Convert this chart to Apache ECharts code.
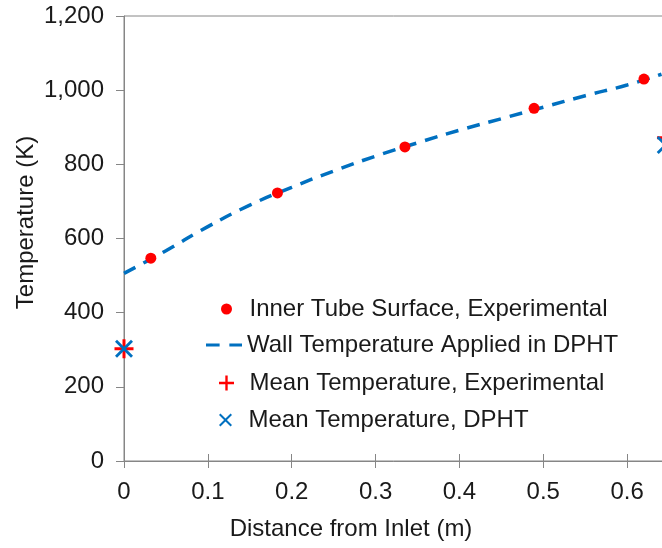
<!DOCTYPE html>
<html>
<head>
<meta charset="utf-8">
<script src="https://cdn.jsdelivr.net/npm/echarts@6/dist/echarts.min.js"></script>
<style>
  html, body { margin: 0; padding: 0; background: #fff; }
  #chart { width: 662px; height: 548px; }
</style>
</head>
<body>
<div id="chart"></div>
<script>
// Axial temperature profile along the tube
const xTicks = [0, 0.1, 0.2, 0.3, 0.4, 0.5, 0.6];
const yTicks = [0, 200, 400, 600, 800, 1000, 1200];

// Inner tube surface, experimental (thermocouple positions)
const surfX = [0.032, 0.183, 0.335, 0.489, 0.620];
const surfT = [547, 723, 847, 951, 1030];

// Wall temperature profile applied in DPHT
const wallX = [0, 0.025, 0.05, 0.1, 0.15, 0.2, 0.25, 0.3, 0.35, 0.4, 0.45, 0.5, 0.55, 0.6, 0.641];
const wallT = [506, 536, 567, 632, 690, 738, 782, 822, 858, 892, 923, 954, 985, 1014, 1043];

// Mean (bulk) temperature at inlet and outlet
const meanExpX = [0, 0.647];
const meanExpT = [303, 872];
const meanDphtX = [0, 0.646];
const meanDphtT = [303, 852];

const names = [
  'Inner Tube Surface, Experimental',
  'Wall Temperature Applied in DPHT',
  'Mean Temperature, Experimental',
  'Mean Temperature, DPHT'
];

const RED = '#ff0000';
const BLUE = '#0070c0';
const AXIS = '#868686';
const TEXT = '#1a1a1a';
const FONT = '"Liberation Sans", Arial, sans-serif';

const plusPath = 'path://M8,0H11V8H19V11H11V19H8V11H0V8H8Z';
const crossPath = 'path://M0,2L2,0L9,7L16,0L18,2L11,9L18,16L16,18L9,11L2,18L0,16L7,9Z';
const dashPath = 'path://M0,0H14V3H0Z M24,0H37V3H24Z';

const zip = (xs, ys) => xs.map((x, i) => [x, ys[i]]);

const chart = echarts.init(document.getElementById('chart'), null, { renderer: 'canvas' });

function legendAt(name, icon, left, top, w, h) {
  return {
    data: [{ name: name, icon: icon }],
    left: left, top: top, padding: 0,
    itemWidth: w, itemHeight: h,
    symbolKeepAspect: true,
    selectedMode: false,
    textStyle: { fontFamily: FONT, fontSize: 24, lineHeight: 24, color: TEXT }
  };
}

const baseX = {
  type: 'value', min: 0, max: 0.7, interval: 0.1,
  splitLine: { show: false }
};

chart.setOption({
  animation: false,
  backgroundColor: '#ffffff',
  grid: {
    left: 124, top: 16, bottom: 87, width: 587,
    outerBoundsMode: 'none',
    containLabel: false,
    show: true, borderColor: AXIS, borderWidth: 1, backgroundColor: 'transparent'
  },
  legend: [
    legendAt(names[0], 'circle', 221, 297, 36, 11),
    legendAt(names[1], dashPath, 206, 333, 36, 3),
    legendAt(names[2], plusPath, 219, 371, 36, 15),
    legendAt(names[3], crossPath, 219, 408, 36, 13)
  ],
  xAxis: [
    Object.assign({}, baseX, {
      name: 'Distance from Inlet (m)',
      nameLocation: 'middle', nameGap: 56, nameMoveOverlap: false,
      nameTextStyle: { fontFamily: FONT, fontSize: 24, color: TEXT, padding: [0, 133, 0, 0] },
      axisLine: { show: true, lineStyle: { color: AXIS, width: 1 } },
      axisTick: { show: true, inside: false, length: 7, lineStyle: { color: AXIS, width: 1 } },
      axisLabel: {
        fontFamily: FONT, fontSize: 24, color: TEXT, margin: 19,
        formatter: v => (xTicks.some(t => Math.abs(t - v) < 1e-9) ? String(Math.round(v * 10) / 10) : '')
      }
    }),
    Object.assign({}, baseX, {
      position: 'bottom',
      axisLine: { show: false },
      axisTick: { show: true, inside: true, length: 7, lineStyle: { color: AXIS, width: 1 } },
      axisLabel: { show: false }
    })
  ],
  yAxis: {
    type: 'value', min: 0, max: 1200, interval: 200,
    name: 'Temperature (K)',
    nameLocation: 'middle', nameGap: 86, nameRotate: 90, nameMoveOverlap: false,
    nameTextStyle: { fontFamily: FONT, fontSize: 24, color: TEXT, padding: [0, 0, 0, 32] },
    axisLine: { show: true, lineStyle: { color: AXIS, width: 1 } },
    axisTick: { show: true, inside: false, length: 8, lineStyle: { color: AXIS, width: 1 } },
    splitLine: { show: false },
    axisLabel: {
      fontFamily: FONT, fontSize: 24, color: TEXT, margin: 20,
      formatter: v => (yTicks.indexOf(v) >= 0 ? v.toLocaleString('en-US') : '')
    }
  },
  series: [
    {
      name: names[0], type: 'scatter',
      data: zip(surfX, surfT),
      symbol: 'circle', symbolSize: 11,
      itemStyle: { color: RED, opacity: 1 },
      z: 3
    },
    {
      name: names[1], type: 'line',
      data: zip(wallX, wallT),
      smooth: true, showSymbol: false, symbol: 'none',
      lineStyle: { color: BLUE, width: 3.5, type: [13, 9], cap: 'butt' },
      itemStyle: { color: BLUE },
      z: 2
    },
    {
      name: names[2], type: 'scatter',
      data: zip(meanExpX, meanExpT),
      symbol: plusPath, symbolSize: 19, clip: false,
      itemStyle: { color: RED, opacity: 1 },
      z: 4
    },
    {
      name: names[3], type: 'scatter',
      data: zip(meanDphtX, meanDphtT),
      symbol: crossPath, symbolSize: 18, clip: false,
      itemStyle: { color: BLUE, opacity: 1 },
      z: 5
    }
  ]
});
</script>
</body>
</html>
